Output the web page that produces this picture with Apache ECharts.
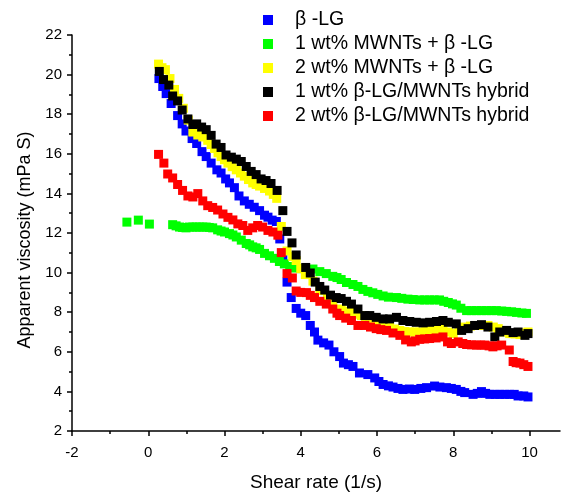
<!DOCTYPE html>
<html>
<head>
<meta charset="utf-8">
<script src="https://cdn.jsdelivr.net/npm/echarts@6/dist/echarts.min.js"></script>
<style>html,body{margin:0;padding:0;background:#fff}#c{width:568px;height:497px}</style>
</head>
<body>
<div id="c"></div>
<script>
var seriesNames = ['\u03b2 -LG', '1 wt% MWNTs + \u03b2 -LG', '2 wt% MWNTs + \u03b2 -LG', '1 wt% \u03b2-LG/MWNTs hybrid', '2 wt% \u03b2-LG/MWNTs hybrid'];
var xTicks = [-2, 0, 2, 4, 6, 8, 10];
var yTicks = [2, 4, 6, 8, 10, 12, 14, 16, 18, 20, 22];

var betaLG = [[0.28,19.8],[0.38,19.4],[0.47,19.04],[0.60,18.54],[0.77,17.93],[0.89,17.51],[0.99,17.15],[1.15,16.77],[1.27,16.52],[1.41,16.11],[1.52,15.86],[1.65,15.53],[1.80,15.19],[1.91,15.03],[2.03,14.73],[2.13,14.53],[2.26,14.29],[2.38,13.87],[2.52,13.62],[2.65,13.45],[2.78,13.30],[2.92,13.13],[3.05,12.9],[3.14,12.80],[3.25,12.65],[3.36,12.58],[3.45,11.7],[3.53,10.77],[3.64,9.52],[3.75,8.74],[3.88,8.19],[4.0,7.95],[4.13,7.83],[4.25,7.33],[4.36,7.0],[4.45,6.59],[4.6,6.45],[4.74,6.34],[4.87,6.0],[5.02,5.76],[5.12,5.43],[5.25,5.35],[5.37,5.26],[5.54,4.93],[5.76,4.85],[5.94,4.68],[6.05,4.5],[6.16,4.35],[6.3,4.28],[6.42,4.22],[6.55,4.15],[6.68,4.10],[6.85,4.12],[6.99,4.10],[7.15,4.15],[7.30,4.19],[7.51,4.27],[7.65,4.22],[7.82,4.19],[7.95,4.15],[8.08,4.10],[8.2,4.0],[8.30,3.94],[8.52,3.85],[8.63,3.9],[8.74,3.99],[8.85,3.9],[8.96,3.85],[9.1,3.85],[9.22,3.85],[9.35,3.85],[9.48,3.85],[9.60,3.85],[9.70,3.77],[9.85,3.77],[9.96,3.72]];

var mwnt1 = [[-0.56,12.55],[-0.26,12.65],[0.03,12.45],[0.64,12.42],[0.73,12.36],[0.82,12.30],[0.9,12.28],[0.99,12.26],[1.08,12.3],[1.17,12.30],[1.26,12.3],[1.34,12.30],[1.43,12.3],[1.52,12.30],[1.6,12.28],[1.69,12.26],[1.82,12.16],[1.91,12.1],[2.0,12.05],[2.13,11.97],[2.22,11.9],[2.31,11.80],[2.44,11.64],[2.57,11.47],[2.66,11.4],[2.74,11.30],[2.83,11.25],[2.92,11.17],[3.05,10.97],[3.18,10.85],[3.31,10.72],[3.44,10.56],[3.57,10.44],[3.71,10.31],[3.85,10.23],[4.0,10.2],[4.15,10.15],[4.32,10.18],[4.5,10.05],[4.67,9.95],[4.84,9.81],[4.95,9.75],[5.06,9.65],[5.2,9.5],[5.37,9.40],[5.5,9.3],[5.63,9.15],[5.76,9.05],[5.89,8.98],[6.02,8.9],[6.16,8.82],[6.3,8.76],[6.51,8.74],[6.65,8.7],[6.81,8.66],[6.95,8.64],[7.12,8.62],[7.25,8.62],[7.38,8.62],[7.5,8.62],[7.64,8.62],[7.75,8.55],[7.87,8.49],[7.98,8.42],[8.08,8.36],[8.2,8.2],[8.35,8.08],[8.48,8.08],[8.61,8.08],[8.74,8.08],[8.87,8.08],[9.0,8.08],[9.13,8.08],[9.27,8.06],[9.40,8.04],[9.53,8.02],[9.66,7.99],[9.8,7.96],[9.92,7.94]];

var mwnt2 = [[0.27,20.53],[0.36,20.35],[0.45,20.25],[0.57,19.8],[0.69,19.25],[0.8,18.8],[0.92,18.3],[1.05,17.7],[1.17,17.10],[1.3,16.95],[1.43,16.85],[1.56,16.68],[1.65,16.47],[1.74,16.27],[1.83,16.05],[1.91,15.86],[2.0,15.7],[2.09,15.53],[2.2,15.35],[2.31,15.19],[2.42,15.03],[2.52,14.87],[2.63,14.7],[2.74,14.53],[2.83,14.45],[2.92,14.37],[3.05,14.25],[3.18,14.12],[3.28,13.95],[3.37,13.75],[3.49,12.33],[3.64,11.09],[3.79,10.81],[3.88,10.61],[4.0,10.2],[4.12,9.9],[4.32,9.57],[4.5,9.1],[4.7,8.7],[4.84,8.41],[5.06,8.16],[5.2,8.05],[5.33,7.99],[5.46,7.9],[5.59,7.83],[5.7,7.6],[5.81,7.41],[5.95,7.41],[6.07,7.41],[6.2,7.33],[6.33,7.25],[6.46,7.15],[6.60,7.08],[6.73,7.02],[6.86,7.0],[7.0,7.0],[7.12,7.0],[7.28,7.05],[7.43,7.08],[7.58,7.12],[7.73,7.17],[7.87,7.0],[8.0,6.92],[8.15,7.1],[8.30,7.25],[8.45,7.3],[8.61,7.33],[8.76,7.33],[8.91,7.33],[9.05,7.25],[9.18,7.17],[9.33,7.0],[9.48,6.92],[9.62,6.9],[9.75,6.87],[9.86,6.95],[9.96,7.0]];

var hybrid1 = [[0.29,20.16],[0.40,19.75],[0.54,19.47],[0.64,18.92],[0.77,18.67],[0.89,18.21],[1.04,17.76],[1.17,17.48],[1.27,17.51],[1.40,17.35],[1.52,17.22],[1.65,16.93],[1.78,16.49],[1.91,16.32],[2.04,15.94],[2.18,15.83],[2.31,15.73],[2.44,15.61],[2.57,15.36],[2.70,15.11],[2.83,14.95],[2.96,14.73],[3.09,14.65],[3.22,14.50],[3.38,14.15],[3.53,13.13],[3.64,12.08],[3.77,11.50],[3.88,10.89],[4.13,10.26],[4.25,9.98],[4.38,9.52],[4.50,9.3],[4.63,9.12],[4.78,8.86],[4.93,8.74],[5.06,8.69],[5.2,8.55],[5.33,8.41],[5.50,8.16],[5.68,7.83],[5.81,7.83],[5.98,7.74],[6.16,7.66],[6.33,7.66],[6.51,7.74],[6.68,7.58],[6.86,7.53],[7.03,7.49],[7.21,7.46],[7.38,7.49],[7.56,7.53],[7.73,7.58],[7.87,7.49],[8.08,7.41],[8.22,7.08],[8.39,7.17],[8.56,7.33],[8.74,7.37],[8.91,7.25],[9.09,6.75],[9.22,7.0],[9.40,7.08],[9.57,6.97],[9.70,7.0],[9.88,6.83],[9.96,6.92]];

var hybrid2 = [[0.27,15.97],[0.41,15.53],[0.51,14.98],[0.64,14.78],[0.77,14.45],[0.90,14.15],[1.04,13.87],[1.17,13.82],[1.30,13.99],[1.43,13.62],[1.56,13.38],[1.69,13.29],[1.82,13.16],[1.96,12.96],[2.09,12.79],[2.22,12.66],[2.35,12.46],[2.48,12.38],[2.61,12.13],[2.74,12.26],[2.87,12.38],[3.0,12.30],[3.14,12.13],[3.27,12.05],[3.40,11.89],[3.49,11.01],[3.64,9.95],[3.78,9.73],[3.88,9.07],[4.0,9.0],[4.15,8.99],[4.25,8.85],[4.36,8.74],[4.5,8.55],[4.67,8.41],[4.84,8.16],[4.95,7.95],[5.02,7.83],[5.18,7.7],[5.33,7.58],[5.50,7.33],[5.68,7.33],[5.83,7.25],[5.98,7.17],[6.1,7.12],[6.25,7.08],[6.42,6.95],[6.60,6.83],[6.75,6.6],[6.90,6.50],[7.0,6.55],[7.12,6.63],[7.25,6.65],[7.38,6.67],[7.55,6.7],[7.73,6.75],[7.85,6.5],[7.95,6.42],[8.13,6.50],[8.25,6.42],[8.35,6.37],[8.48,6.35],[8.61,6.34],[8.72,6.34],[8.83,6.34],[8.94,6.3],[9.04,6.25],[9.15,6.3],[9.27,6.34],[9.47,6.09],[9.57,5.51],[9.65,5.45],[9.75,5.43],[9.85,5.35],[9.96,5.26]];

var seriesData = [betaLG, mwnt1, mwnt2, hybrid1, hybrid2];
var colors = ['#0000ff', '#00ff00', '#ffff00', '#000000', '#ff0000'];

var FONT = 'Liberation Sans, Arial, sans-serif';
var chart = echarts.init(document.getElementById('c'), null, {renderer: 'canvas'});
chart.setOption({
  animation: false,
  backgroundColor: '#ffffff',
  grid: {left: 72, right: 8, top: 35, bottom: 60, containLabel: false},
  legend: {
    orient: 'vertical',
    left: 258,
    top: 5,
    itemWidth: 10,
    itemHeight: 10,
    itemGap: 4,
    icon: 'rect',
    textStyle: {fontFamily: FONT, fontSize: 19.5, color: '#000', lineHeight: 19.5, padding: [0, 0, 0, 17]},
    data: seriesNames
  },
  xAxis: {
    type: 'value',
    min: -2,
    max: 10.8,
    interval: 2,
    name: 'Shear rate (1/s)',
    nameLocation: 'middle',
    nameGap: 42,
    nameTextStyle: {fontFamily: FONT, fontSize: 19, color: '#000'},
    axisLine: {show: true, onZero: false, lineStyle: {color: '#000', width: 1.5}},
    axisTick: {show: true, inside: false, length: 5, lineStyle: {color: '#000', width: 1.5}, customValues: xTicks},
    minorTick: {show: true, splitNumber: 2, length: 3, lineStyle: {color: '#000', width: 1.5}},
    axisLabel: {fontFamily: FONT, fontSize: 15, color: '#000', margin: 14, customValues: xTicks},
    splitLine: {show: false},
    minorSplitLine: {show: false}
  },
  yAxis: {
    type: 'value',
    min: 2,
    max: 22,
    interval: 2,
    name: 'Apparent viscosity (mPa S)',
    nameLocation: 'middle',
    nameGap: 38,
    nameTextStyle: {fontFamily: FONT, fontSize: 18, color: '#000', padding: [0, 14, 0, 0]},
    axisLine: {show: true, onZero: false, lineStyle: {color: '#000', width: 1.5}},
    axisTick: {show: true, inside: false, length: 5, lineStyle: {color: '#000', width: 1.5}},
    minorTick: {show: true, splitNumber: 2, length: 3, lineStyle: {color: '#000', width: 1.5}},
    axisLabel: {fontFamily: FONT, fontSize: 15, color: '#000', margin: 10},
    splitLine: {show: false},
    minorSplitLine: {show: false}
  },
  series: seriesData.map(function (d, i) {
    return {
      name: seriesNames[i],
      type: 'scatter',
      symbol: 'rect',
      symbolSize: 9,
      itemStyle: {color: colors[i], opacity: 1},
      emphasis: {disabled: true},
      data: d
    };
  })
});
</script>
</body>
</html>
